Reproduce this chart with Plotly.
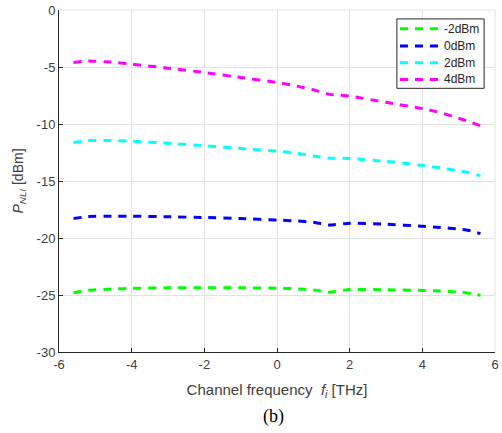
import plotly.graph_objects as go

# Channel frequency grid [THz]
freq = [-5.6, -5.2, -4.5, -4.0, -3.0, -2.0, -1.0, 0.0, 0.5, 1.0, 1.45, 2.0, 3.0, 4.0, 4.5, 5.0, 5.3, 5.6]

# Nonlinear interference power P_NLI [dBm] per launch power
p_m2 = [-24.81, -24.58, -24.47, -24.42, -24.37, -24.37, -24.37, -24.40, -24.45, -24.55, -24.75,
        -24.52, -24.54, -24.60, -24.65, -24.75, -24.85, -25.03]
p_0 = [-18.29, -18.12, -18.08, -18.09, -18.14, -18.20, -18.30, -18.42, -18.50, -18.62, -18.87,
       -18.70, -18.78, -18.97, -19.07, -19.22, -19.35, -19.62]
p_2 = [-11.63, -11.45, -11.45, -11.50, -11.69, -11.91, -12.15, -12.38, -12.55, -12.80, -13.00,
       -13.02, -13.28, -13.63, -13.85, -14.10, -14.28, -14.55]
p_4 = [-4.61, -4.47, -4.58, -4.75, -5.10, -5.48, -5.92, -6.35, -6.65, -7.00, -7.40,
       -7.55, -8.10, -8.65, -9.00, -9.50, -9.80, -10.15]

series_names = ["-2dBm", "0dBm", "2dBm", "4dBm"]
series_vals = [p_m2, p_0, p_2, p_4]
series_colors = ["#00ff00", "#0000ff", "#00ffff", "#ff00ff"]

x_ticks = [-6, -4, -2, 0, 2, 4, 6]
y_ticks = [-30, -25, -20, -15, -10, -5, 0]

axis_col = "#262626"
grid_col = "#e2e2e2"
dash_style = "8px,7px"
sans = "Liberation Sans, Arial, sans-serif"

fig = go.Figure()
for name, vals, col in zip(series_names, series_vals, series_colors):
    fig.add_trace(go.Scatter(
        x=freq, y=vals, mode="lines", name=name, showlegend=False,
        line=dict(color=col, width=3, dash=dash_style, shape="spline", smoothing=0.35),
    ))

tick_font = dict(family=sans, size=13, color="#404040")

fig.update_xaxes(
    range=[-6, 6], tickvals=x_ticks, ticktext=[str(v) for v in x_ticks],
    showgrid=True, gridcolor=grid_col, gridwidth=1, zeroline=False,
    showline=True, linecolor=axis_col, linewidth=1,
    ticks="inside", ticklen=4, tickcolor=axis_col,
    tickfont=tick_font, ticklabeloverflow="allow",
    title=dict(text="Channel frequency  <i>f</i><sub><i>i</i></sub> [THz]",
               font=dict(family=sans, size=15, color="#404040"),
               standoff=13),
)
fig.update_yaxes(
    range=[-30, 0], tickvals=y_ticks, ticktext=[str(v) for v in y_ticks],
    showgrid=True, gridcolor=grid_col, gridwidth=1, zeroline=False,
    showline=True, linecolor=axis_col, linewidth=1,
    ticks="inside", ticklen=4, tickcolor=axis_col,
    tickfont=tick_font, ticklabeloverflow="allow",
    title=dict(text="<i>P</i><sub><i>NLI</i></sub> [dBm]",
               font=dict(family=sans, size=14, color="#404040"),
               standoff=9),
)

# light box edges along the top and right of the axes
fig.add_shape(type="line", xref="paper", yref="paper", x0=0, x1=1, y0=1, y1=1,
              line=dict(color=grid_col, width=1))
fig.add_shape(type="line", xref="paper", yref="paper", x0=1, x1=1, y0=0, y1=1,
              line=dict(color=grid_col, width=1))

# compact legend box in the upper right corner
fig.add_shape(type="rect", xref="paper", yref="paper", x0=0.775, x1=0.975, y0=0.771, y1=0.974,
              line=dict(color=axis_col, width=1), fillcolor="white", layer="above")
legend_rows = [0.945, 0.895, 0.846, 0.797]
for name, col, yy in zip(series_names, series_colors, legend_rows):
    fig.add_shape(type="line", xref="paper", yref="paper", x0=0.782, x1=0.875, y0=yy, y1=yy,
                  line=dict(color=col, width=3, dash=dash_style), layer="above")
    fig.add_annotation(text=name, xref="paper", yref="paper", x=0.879, y=yy,
                       xanchor="left", yanchor="middle", showarrow=False,
                       font=dict(family=sans, size=12, color="#262626"))

fig.add_annotation(
    text="(b)", xref="paper", yref="paper", x=0.493, y=-0.19,
    xanchor="center", yanchor="middle", showarrow=False,
    font=dict(family="Liberation Serif, Times New Roman, serif", size=18, color="#000000"),
)

fig.update_layout(
    width=502, height=433,
    margin=dict(l=59, r=3, t=7, b=81),
    paper_bgcolor="white", plot_bgcolor="white",
    showlegend=False,
)

fig.write_html("out.html")
